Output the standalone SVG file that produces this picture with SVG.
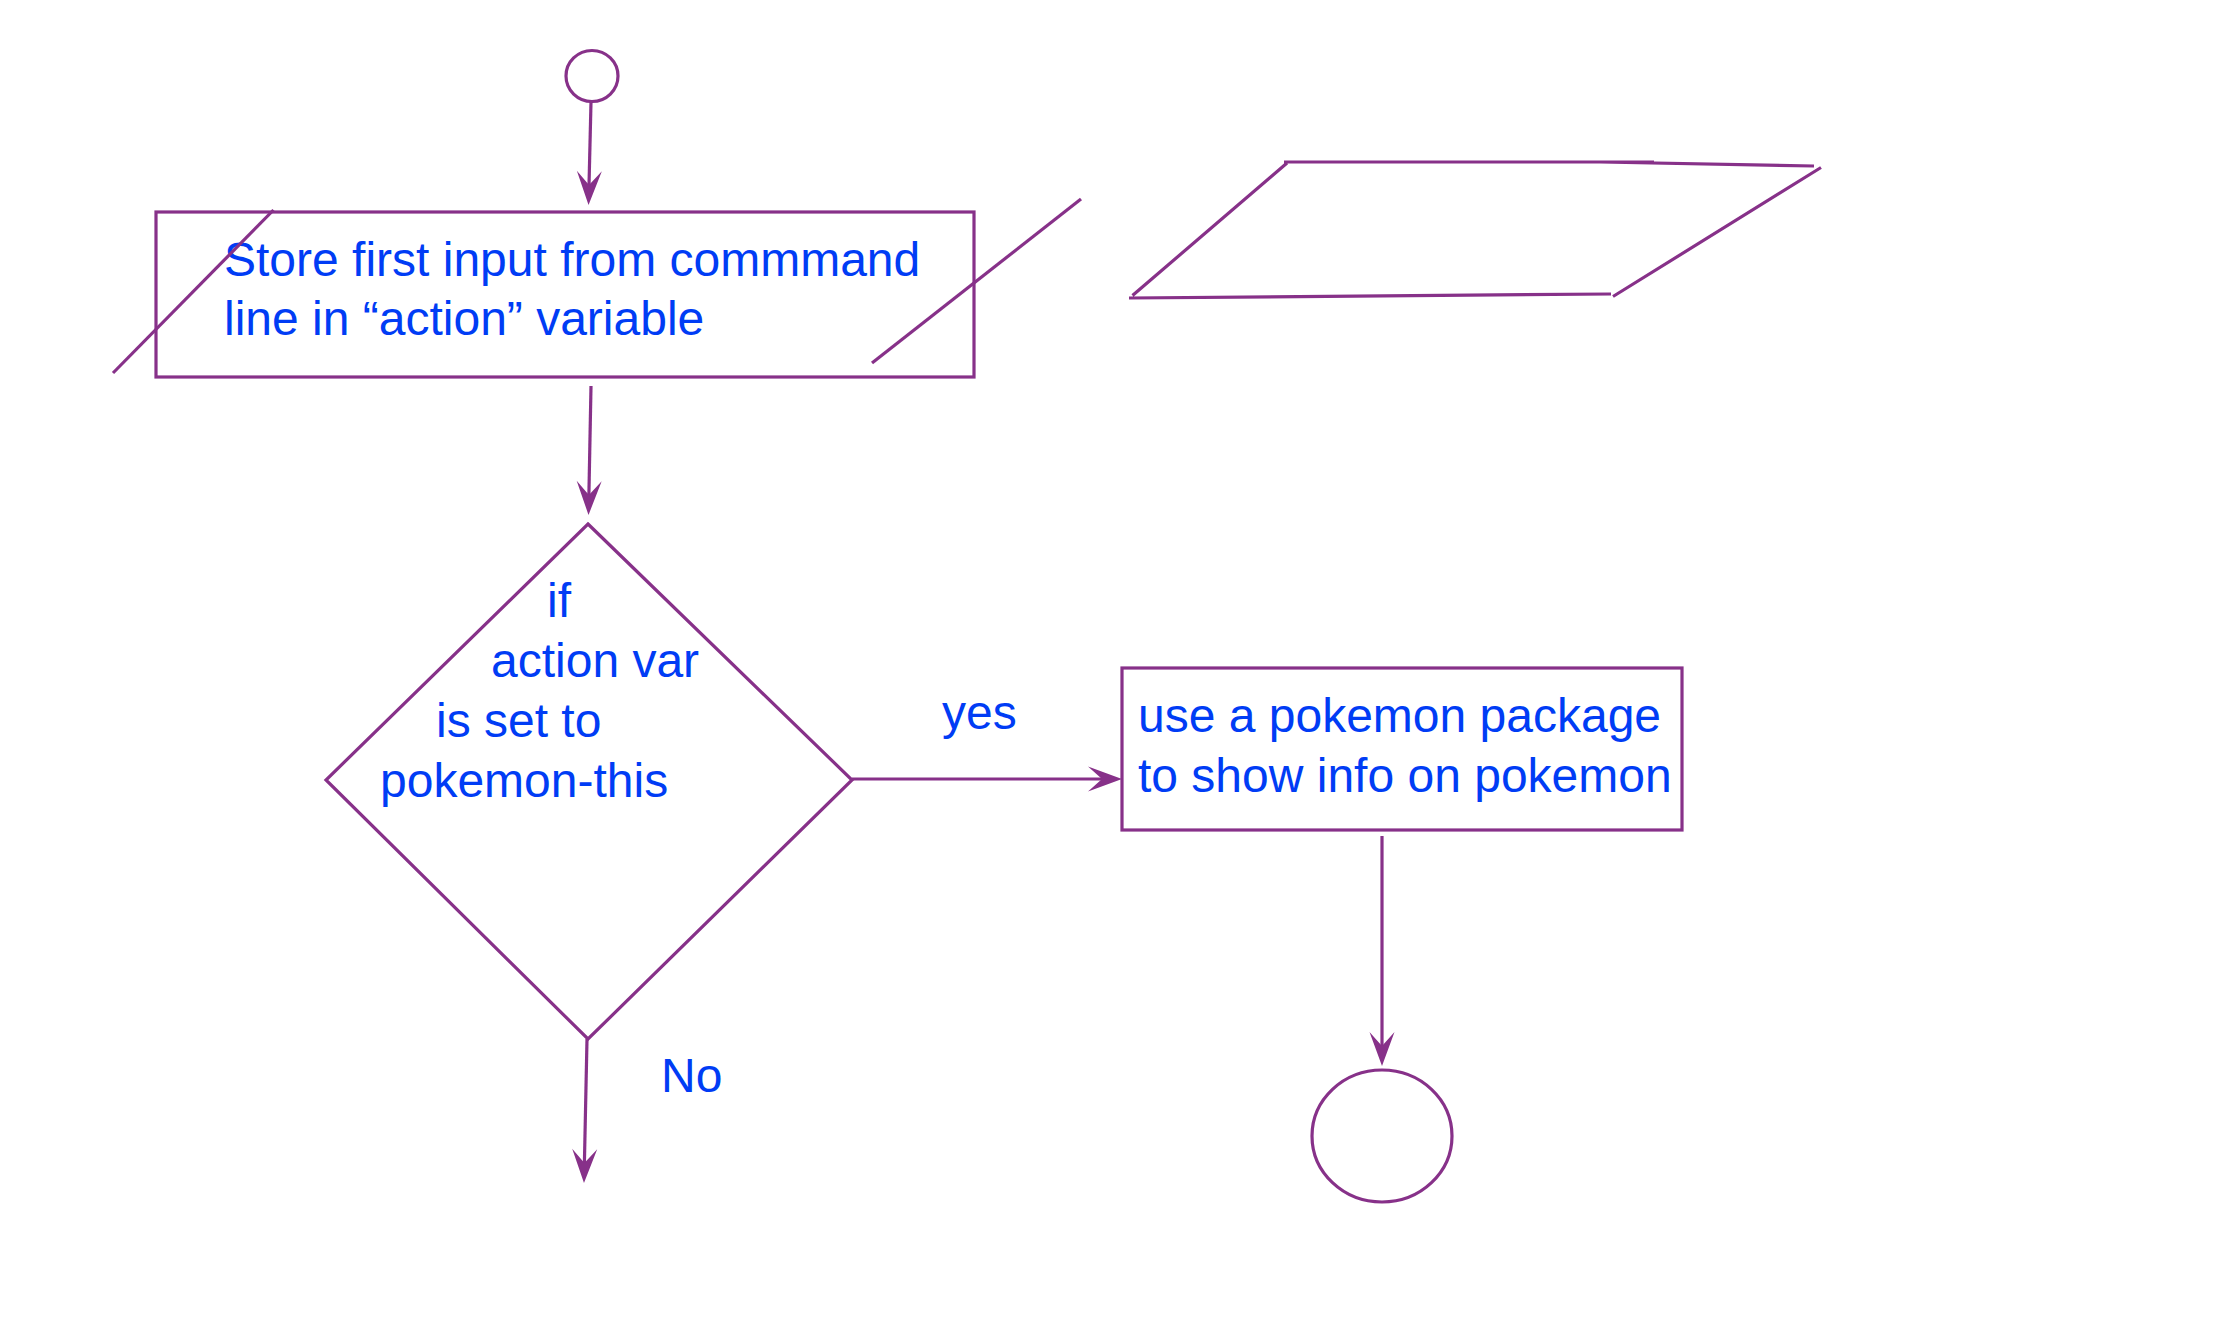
<svg xmlns="http://www.w3.org/2000/svg" width="2216" height="1342" viewBox="0 0 2216 1342">
<style>
.s{fill:none;stroke:#873189;stroke-width:3.2;stroke-linejoin:miter}
.c{fill:none;stroke:#873189;stroke-width:3.2}
.t{font-family:"Liberation Sans",Arial,Helvetica,sans-serif;font-size:48px;fill:#003CF5}
</style>
<defs>
<marker id="ah" viewBox="-22 -14 40 28" markerWidth="40" markerHeight="28" refX="0" refY="0" markerUnits="userSpaceOnUse" orient="auto">
<path d="M15,0 L-19,-12.5 L-5,0 L-19,12.5 Z" fill="#873189"/>
</marker>
</defs>
<rect width="2216" height="1342" fill="#ffffff"/>
<g id="start">
<ellipse cx="592" cy="76" rx="26" ry="25.5" class="s"/>
</g>
<g id="store-action">
<rect x="156" y="212" width="818" height="165" class="s"/>
<text class="t" x="224" y="276">Store first input from commmand</text>
<text class="t" x="224" y="335">line in “action” variable</text>
</g>
<g id="strokes">
<line x1="113" y1="373" x2="273.5" y2="210" class="s"/>
<line x1="872" y1="363" x2="1081" y2="199" class="s"/>
</g>
<g id="parallelogram">
<path d="M1284,162 L1654,162 M1600,162 L1814,166 M1821,167.5 L1613,296.5 M1611,294 L1129,298 M1132.5,295.5 L1287,163" class="s"/>
</g>
<g id="decision">
<polygon points="588,524 852,780 588,1039 326,780" class="s"/>
<text class="t" x="547" y="617">if</text>
<text class="t" x="491" y="677">action var</text>
<text class="t" x="436" y="737">is set to</text>
<text class="t" x="380" y="797">pokemon-this</text>
</g>
<g id="show-info">
<rect x="1122" y="668" width="560" height="162" class="s"/>
<text class="t" x="1138" y="732">use a pokemon package</text>
<text class="t" x="1138" y="792">to show info on pokemon</text>
</g>
<g id="end">
<ellipse cx="1382" cy="1136" rx="70" ry="66" class="s"/>
</g>
<g id="connectors">
<line x1="591" y1="102" x2="588.9" y2="190" class="c" marker-end="url(#ah)"/>
<line x1="591" y1="386" x2="588.8" y2="500" class="c" marker-end="url(#ah)"/>
<line x1="852" y1="779" x2="1107" y2="779" class="c" marker-end="url(#ah)"/>
<text class="t" x="942" y="729">yes</text>
<line x1="587" y1="1039" x2="584.3" y2="1168" class="c" marker-end="url(#ah)"/>
<text class="t" x="661" y="1092">No</text>
<line x1="1382" y1="836" x2="1382" y2="1051" class="c" marker-end="url(#ah)"/>
</g>
</svg>
